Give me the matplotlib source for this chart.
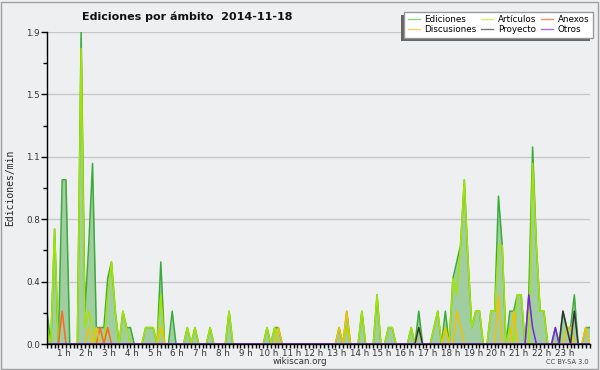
import matplotlib
matplotlib.use("Agg")
import matplotlib.pyplot as plt
from matplotlib.patches import Rectangle
from matplotlib.lines import Line2D
from matplotlib.transforms import ScaledTranslation
import numpy as np

# ediciones/min cada 10 minutos (144 puntos, una fila = 4 horas)
ediciones = [
    0.2, 0, 0.7, 0, 1.0, 1.0, 0, 0, 0, 1.9, 0.2, 0.6, 1.1, 0.1, 0.1, 0.1, 0.4, 0.5, 0.2, 0, 0.2, 0.1, 0.1, 0,
    0, 0, 0.1, 0.1, 0.1, 0, 0.5, 0, 0, 0.2, 0, 0, 0, 0.1, 0, 0.1, 0, 0, 0, 0.1, 0, 0, 0, 0,
    0.2, 0, 0, 0, 0, 0, 0, 0, 0, 0, 0.1, 0, 0.1, 0.1, 0, 0, 0, 0, 0, 0, 0, 0, 0, 0,
    0, 0, 0, 0, 0, 0.1, 0, 0.2, 0, 0, 0, 0.2, 0, 0, 0, 0.3, 0, 0, 0.1, 0.1, 0, 0, 0, 0,
    0.1, 0, 0.2, 0, 0, 0, 0.1, 0.2, 0, 0.2, 0, 0.4, 0.5, 0.6, 1.0, 0.5, 0.1, 0.2, 0.2, 0, 0, 0.2, 0.2, 0.9,
    0.6, 0, 0.2, 0.2, 0.3, 0.3, 0, 0.3, 1.2, 0.6, 0.2, 0.2, 0, 0, 0.1, 0, 0.2, 0.1, 0.1, 0.3, 0, 0, 0.1, 0.1,
]
articulos = [
    0.1, 0, 0.7, 0, 0, 0, 0, 0, 0, 1.8, 0.1, 0.2, 0.1, 0, 0, 0, 0.3, 0.5, 0.2, 0, 0.2, 0.1, 0, 0,
    0, 0, 0.1, 0.1, 0.1, 0, 0.3, 0, 0, 0, 0, 0, 0, 0.1, 0, 0.1, 0, 0, 0, 0.1, 0, 0, 0, 0,
    0.2, 0, 0, 0, 0, 0, 0, 0, 0, 0, 0.1, 0, 0.1, 0, 0, 0, 0, 0, 0, 0, 0, 0, 0, 0,
    0, 0, 0, 0, 0, 0, 0, 0.1, 0, 0, 0, 0.2, 0, 0, 0, 0.3, 0, 0, 0.1, 0.1, 0, 0, 0, 0,
    0.1, 0, 0.1, 0, 0, 0, 0.1, 0.2, 0, 0.1, 0, 0.4, 0.3, 0.6, 1.0, 0.5, 0.1, 0.2, 0.2, 0, 0, 0.2, 0.2, 0.6,
    0.6, 0, 0.1, 0, 0.3, 0.3, 0, 0, 1.1, 0.6, 0.2, 0.2, 0, 0, 0, 0, 0, 0, 0, 0, 0, 0, 0, 0,
]
anexos = [
    0, 0, 0, 0, 0.2, 0, 0, 0, 0, 0, 0, 0, 0, 0, 0.1, 0, 0.1, 0, 0, 0, 0, 0, 0, 0,
    0, 0, 0, 0, 0, 0, 0, 0, 0, 0, 0, 0, 0, 0, 0, 0, 0, 0, 0, 0, 0, 0, 0, 0,
    0, 0, 0, 0, 0, 0, 0, 0, 0, 0, 0, 0, 0, 0, 0, 0, 0, 0, 0, 0, 0, 0, 0, 0,
    0, 0, 0, 0, 0, 0, 0, 0, 0, 0, 0, 0, 0, 0, 0, 0, 0, 0, 0, 0, 0, 0, 0, 0,
    0, 0, 0, 0, 0, 0, 0, 0, 0, 0, 0, 0, 0, 0, 0, 0, 0, 0, 0, 0, 0, 0, 0, 0,
    0, 0, 0, 0, 0, 0, 0, 0, 0, 0, 0, 0, 0, 0, 0, 0, 0, 0, 0, 0, 0, 0, 0, 0,
]
discusiones = [
    0, 0, 0, 0, 0, 0, 0, 0, 0, 0, 0, 0.1, 0, 0.1, 0, 0, 0, 0, 0, 0, 0, 0, 0, 0,
    0, 0, 0, 0, 0, 0, 0.1, 0, 0, 0, 0, 0, 0, 0, 0, 0, 0, 0, 0, 0, 0, 0, 0, 0,
    0, 0, 0, 0, 0, 0, 0, 0, 0, 0, 0, 0, 0, 0.1, 0, 0, 0, 0, 0, 0, 0, 0, 0, 0,
    0, 0, 0, 0, 0, 0.1, 0, 0.2, 0, 0, 0, 0, 0, 0, 0, 0, 0, 0, 0, 0, 0, 0, 0, 0,
    0, 0, 0, 0, 0, 0, 0, 0, 0, 0.1, 0, 0, 0.2, 0.1, 0, 0, 0, 0, 0, 0, 0, 0, 0, 0.3,
    0, 0, 0, 0.2, 0, 0, 0, 0, 0, 0, 0, 0, 0, 0, 0, 0, 0, 0.1, 0.1, 0, 0, 0, 0.1, 0,
]
proyecto = [
    0, 0, 0, 0, 0, 0, 0, 0, 0, 0, 0, 0, 0, 0, 0, 0, 0, 0, 0, 0, 0, 0, 0, 0,
    0, 0, 0, 0, 0, 0, 0, 0, 0, 0, 0, 0, 0, 0, 0, 0, 0, 0, 0, 0, 0, 0, 0, 0,
    0, 0, 0, 0, 0, 0, 0, 0, 0, 0, 0, 0, 0, 0, 0, 0, 0, 0, 0, 0, 0, 0, 0, 0,
    0, 0, 0, 0, 0, 0, 0, 0, 0, 0, 0, 0, 0, 0, 0, 0, 0, 0, 0, 0, 0, 0, 0, 0,
    0, 0, 0.1, 0, 0, 0, 0, 0, 0, 0, 0, 0, 0, 0, 0, 0, 0, 0, 0, 0, 0, 0, 0, 0,
    0, 0, 0, 0, 0, 0, 0, 0, 0, 0, 0, 0, 0, 0, 0, 0, 0.2, 0.1, 0, 0.2, 0, 0, 0, 0,
]
otros = [
    0, 0, 0, 0, 0, 0, 0, 0, 0, 0, 0, 0, 0, 0, 0, 0, 0, 0, 0, 0, 0, 0, 0, 0,
    0, 0, 0, 0, 0, 0, 0, 0, 0, 0, 0, 0, 0, 0, 0, 0, 0, 0, 0, 0, 0, 0, 0, 0,
    0, 0, 0, 0, 0, 0, 0, 0, 0, 0, 0, 0, 0, 0, 0, 0, 0, 0, 0, 0, 0, 0, 0, 0,
    0, 0, 0, 0, 0, 0, 0, 0, 0, 0, 0, 0, 0, 0, 0, 0, 0, 0, 0, 0, 0, 0, 0, 0,
    0, 0, 0, 0, 0, 0, 0, 0, 0, 0, 0, 0, 0, 0, 0, 0, 0, 0, 0, 0, 0, 0, 0, 0,
    0, 0, 0, 0, 0, 0, 0, 0.3, 0.1, 0, 0, 0, 0, 0, 0.1, 0, 0, 0, 0, 0, 0, 0, 0, 0,
]

series = [("Artículos", articulos, "#a6e400"),
          ("Anexos", anexos, "#ff6622"),
          ("Discusiones", discusiones, "#f2c200"),
          ("Proyecto", proyecto, "#333333"),
          ("Otros", otros, "#7a22e0")]

horas = np.arange(len(ediciones)) / 6.0
bg = "#eeeff1"

fig = plt.figure(figsize=(6, 3.7), dpi=100, facecolor=bg)
ax = fig.add_axes([47/600, 26/370, 542.5/600, 312/370])
ax.set_facecolor(bg)

ax.fill_between(horas, ediciones, color="#a0cea0", lw=0, zorder=2)
ax.plot(horas, ediciones, color="#3aac3a", lw=1.1, zorder=3)
for nombre, vals, col in series:
    ax.plot(horas, vals, color=col, lw=1.1, zorder=4)

ax.set_xlim(0, horas[-1])
ax.set_ylim(0, 1.9)

yt = np.linspace(0, 1.9, 6)
ax.set_yticks(yt)
ax.set_yticklabels(["%.1f" % v for v in yt])
ax.set_yticks((yt[:-1] + yt[1:]) / 2, minor=True)
ax.set_xticks(np.arange(1, 24))
ax.set_xticklabels(["%d h" % h for h in range(1, 24)])
ax.set_xticks(horas, minor=True)

ax.tick_params(axis="y", which="major", direction="out", length=4, width=1, labelsize=6.3,
               labelcolor="#333333", pad=1)
ax.tick_params(axis="y", which="minor", direction="out", length=3, width=1)
ax.tick_params(axis="x", which="both", direction="out", length=3, width=1, labelsize=6.3,
               labelcolor="#333333", pad=0.5)
for lab in ax.get_xticklabels():
    lab.set_transform(lab.get_transform() + ScaledTranslation(-4.5/72, 0, fig.dpi_scale_trans))

ax.yaxis.grid(True, color="#c8c8c8", lw=1)
ax.set_axisbelow(True)
for s in ["top", "right"]:
    ax.spines[s].set_visible(False)
for s in ["left", "bottom"]:
    ax.spines[s].set_zorder(10)
    ax.spines[s].set_linewidth(1)

fig.text(187/600, 1 - 17/370, "Ediciones por ámbito  2014-11-18", ha="center", va="center",
         fontsize=8, weight="bold", color="#111111")
fig.text(10/600, 1 - 188/370, "Ediciones/min", rotation=90, ha="center", va="center",
         fontsize=7, family="DejaVu Sans Mono", color="#222222")
fig.text(300/600, 1 - 361/370, "wikiscan.org", ha="center", va="center", fontsize=6.3, color="#333333")
fig.text(589/600, 1 - 362/370, "CC BY-SA 3.0", ha="right", va="center", fontsize=4.8, color="#444444")

# leyenda
handles = [Line2D([], [], color="#8fd48f", lw=1),
           Line2D([], [], color="#f6d060", lw=1),
           Line2D([], [], color="#d2ee6a", lw=1),
           Line2D([], [], color="#777777", lw=1),
           Line2D([], [], color="#f49060", lw=1),
           Line2D([], [], color="#a070e8", lw=1)]
labels = ["Ediciones", "Discusiones", "Artículos", "Proyecto", "Anexos", "Otros"]
leg = fig.legend(handles, labels, ncol=3, loc="upper left", bbox_to_anchor=(404/600, 1 - 11.7/370),
                 bbox_transform=fig.transFigure, borderaxespad=0, fontsize=6.3, frameon=True,
                 fancybox=False, edgecolor="#999999", framealpha=1, borderpad=0.4,
                 handlelength=1.4, handletextpad=0.5, columnspacing=0.55, labelspacing=0.1)
leg.get_frame().set_linewidth(1)
leg.set_zorder(5)

fig.canvas.draw()
bb = leg.get_window_extent().transformed(fig.transFigure.inverted())
fig.patches.append(Rectangle((bb.x0 - 3/600, bb.y0 - 3/370), bb.width, bb.height,
                             transform=fig.transFigure, facecolor="#666666", lw=0, zorder=4))
fig.patches.append(Rectangle((1/600, 1/370), 597/600, 367/370, transform=fig.transFigure,
                             fill=False, edgecolor="#a0a0a0", lw=1, zorder=0))

fig.savefig("out.png", dpi=100, facecolor=bg)
